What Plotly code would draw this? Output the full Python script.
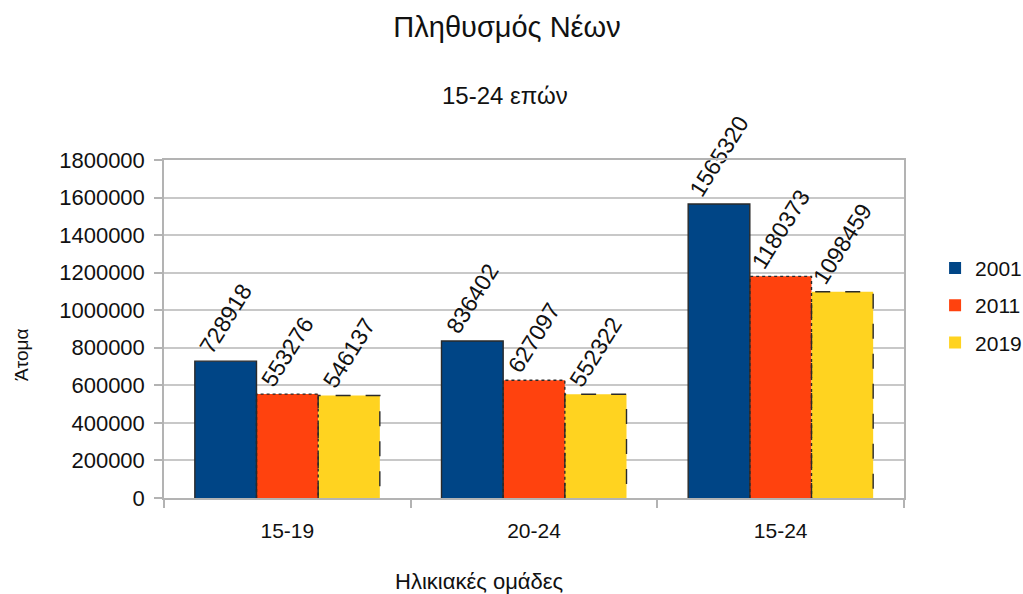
import plotly.graph_objects as go

categories = ["15-19", "20-24", "15-24"]
years = ["2001", "2011", "2019"]
values_2001 = [728918, 836402, 1565320]
values_2011 = [553276, 627097, 1180373]
values_2019 = [546137, 552322, 1098459]
series = [values_2001, values_2011, values_2019]
colors = ["#004586", "#ff420e", "#ffd320"]
dashes = ["solid", "dot", "longdash"]
y_ticks = [0, 200000, 400000, 600000, 800000, 1000000, 1200000, 1400000, 1600000, 1800000]

FONT = "Liberation Sans, Arial, sans-serif"
TXT = "#111111"
bar_w = 0.25

fig = go.Figure()
for k, (name, vals, col, dsh) in enumerate(zip(years, series, colors, dashes)):
    xs = [i + (k - 1) * bar_w for i in range(len(categories))]
    fig.add_trace(go.Bar(
        x=xs, y=vals, width=bar_w, name=name,
        marker=dict(color=col, line=dict(width=0)),
        text=[str(v) for v in vals], textposition="outside", textangle=-58,
        textfont=dict(family=FONT, size=23, color=TXT),
        constraintext="none", cliponaxis=False,
        legendgroup=name, showlegend=True,
    ))
    ox, oy = [], []
    for x, v in zip(xs, vals):
        x0, x1 = x - bar_w / 2, x + bar_w / 2
        ox += [x0, x0, x1, x1, None]
        oy += [0, v, v, 0, None]
    fig.add_trace(go.Scatter(
        x=ox, y=oy, mode="lines", line=dict(color="#2a2a2a", width=1.4, dash=dsh),
        showlegend=False, hoverinfo="skip", legendgroup=name, cliponaxis=False,
    ))

fig.update_layout(
    width=1023, height=594,
    margin=dict(l=164, r=119, t=160, b=96, autoexpand=False),
    paper_bgcolor="white", plot_bgcolor="white",
    barmode="overlay",
    font=dict(family=FONT, size=21, color=TXT),
    title=dict(text="Πληθυσμός Νέων", x=(507 - 164) / 740, xanchor="center", y=1 - 27 / 594, yanchor="middle",
               xref="paper", font=dict(family=FONT, size=29, color=TXT)),
    showlegend=True,
    legend=dict(x=1.042, xanchor="left", y=0.57, yanchor="middle",
                font=dict(family=FONT, size=21, color=TXT),
                tracegroupgap=7, itemwidth=30, bgcolor="rgba(0,0,0,0)"),
    xaxis=dict(
        range=[-0.5, 2.5], tickmode="array", tickvals=list(range(len(categories))), ticktext=categories,
        ticks="", showgrid=False, zeroline=False, ticklabelstandoff=13,
        showline=True, linecolor="#b3b3b3", linewidth=1.5, mirror=True,
        tickfont=dict(family=FONT, size=21, color=TXT),
        minor=dict(tickmode="array", tickvals=[-0.5, 0.5, 1.5, 2.5], ticks="outside", ticklen=8,
                   tickcolor="#b3b3b3", tickwidth=1.5, showgrid=False),
    ),
    yaxis=dict(
        range=[0, 1800000], tickmode="array", tickvals=y_ticks, ticktext=[str(t) for t in y_ticks],
        ticks="outside", ticklen=8, tickcolor="#b3b3b3", tickwidth=1.5, ticklabelstandoff=5,
        showgrid=True, gridcolor="#c8c8c8", gridwidth=1.5, zeroline=False,
        showline=True, linecolor="#b3b3b3", linewidth=1.5, mirror=True,
        tickfont=dict(family=FONT, size=22, color=TXT),
    ),
    annotations=[
        dict(text="15-24 επών", xref="paper", yref="paper", x=(505 - 164) / 740, y=(498 - 95) / 338,
             xanchor="center", yanchor="middle", showarrow=False,
             font=dict(family=FONT, size=24, color=TXT)),
        dict(text="Άτομα", xref="paper", yref="paper", x=(21 - 164) / 740, y=(498 - 355) / 338,
             xanchor="center", yanchor="middle", textangle=-90, showarrow=False,
             font=dict(family=FONT, size=19, color=TXT)),
        dict(text="Ηλικιακές ομάδες", xref="paper", yref="paper", x=(479 - 164) / 740, y=(498 - 581) / 338,
             xanchor="center", yanchor="middle", showarrow=False,
             font=dict(family=FONT, size=22, color=TXT)),
    ],
)

fig.write_html("out.html", post_script="document.body.style.margin='0';",
               config={"displayModeBar": False})
